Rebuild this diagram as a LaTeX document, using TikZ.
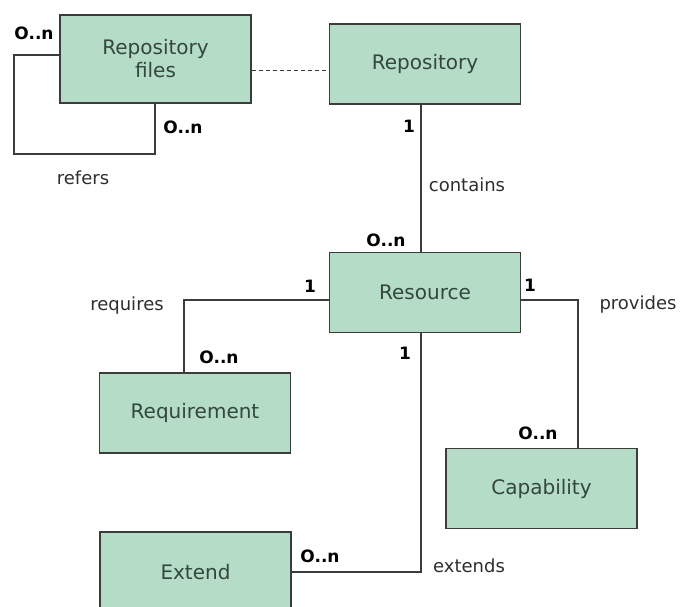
\documentclass[tikz,border=0pt]{standalone}
\usepackage{fontspec}
\setmainfont{DejaVu Sans}
\usetikzlibrary{calc}
\definecolor{boxfill}{HTML}{B5DCC6}
\definecolor{boxline}{HTML}{3C3C3C}
\definecolor{boxtext}{HTML}{33473D}
\definecolor{labeltext}{HTML}{2E2E2E}
\begin{document}
\begin{tikzpicture}[x=1pt,y=-1pt,
  entity/.style={draw=boxline, fill=boxfill, line width=1.2pt,
    minimum width=191pt, minimum height=80pt, inner sep=0pt,
    font=\fontsize{20}{23}\selectfont, text=boxtext, align=center},
  mult/.style={font=\fontsize{17}{19}\selectfont\bfseries, text=black, inner sep=0pt},
  role/.style={font=\fontsize{18}{20}\selectfont, text=labeltext, inner sep=0pt},
  link/.style={draw=boxline, line width=1.2pt},
]
\useasboundingbox (0,0) rectangle (682,607);
\clip (0,0) rectangle (682,607);

% entities
\node[entity, minimum height=88pt] (rf)  at (155.5,59)  {Repository\\files};
\node[entity] (repo) at (425,64)    {Repository};
\node[entity] (res)  at (425,292.5) {Resource};
\node[entity] (req)  at (195,413)   {Requirement};
\node[entity] (cap)  at (541.5,488.5) {Capability};
\node[entity] (ext)  at (195.5,572) {Extend};

% self reference of repository files
\coordinate (loopA) at (14,55);
\coordinate (loopB) at (14,154);
\coordinate (loopC) at (155,154);
\draw[link] ([yshift=4pt]rf.west) -- (loopA) -- (loopB) -- (loopC) -- (loopC |- rf.south);

% dashed association
\draw[link, line width=1pt, dash pattern=on 4pt off 3pt]
  ([yshift=-12pt]rf.east) -- ([yshift=-12pt]rf.east -| repo.west);

% repository contains resources
\draw[link] ([xshift=-4pt]repo.south) -- ([xshift=-4pt]res.north);

% requires
\draw[link] ([yshift=-7.5pt]res.west) -| ([xshift=-11pt]req.north);

% provides
\draw[link] ([yshift=-7.5pt]res.east) -| ([xshift=36.5pt]cap.north);

% extends
\draw[link] ([xshift=-4pt]res.south) |- (ext.east);

% multiplicities
\node[mult] (m1) at (34,33)   {O..n};
\node[mult] (m2) at (183,127) {O..n};
\node[mult] (m3) at (409,126) {1};
\node[mult] (m4) at (386,240) {O..n};
\node[mult] (m5) at (310,286) {1};
\node[mult] (m6) at (219,357) {O..n};
\node[mult] (m7) at (530,285) {1};
\node[mult] (m8) at (538,433) {O..n};
\node[mult] (m9) at (405,353) {1};
\node[mult] (m10) at (320,556) {O..n};

% role names
\node[role] (r1) at (83,178)  {refers};
\node[role] (r2) at (467,185) {contains};
\node[role] (r3) at (127,306) {requires};
\node[role] (r4) at (638,305) {provides};
\node[role] (r5) at (469,566) {extends};
\end{tikzpicture}
\end{document}
